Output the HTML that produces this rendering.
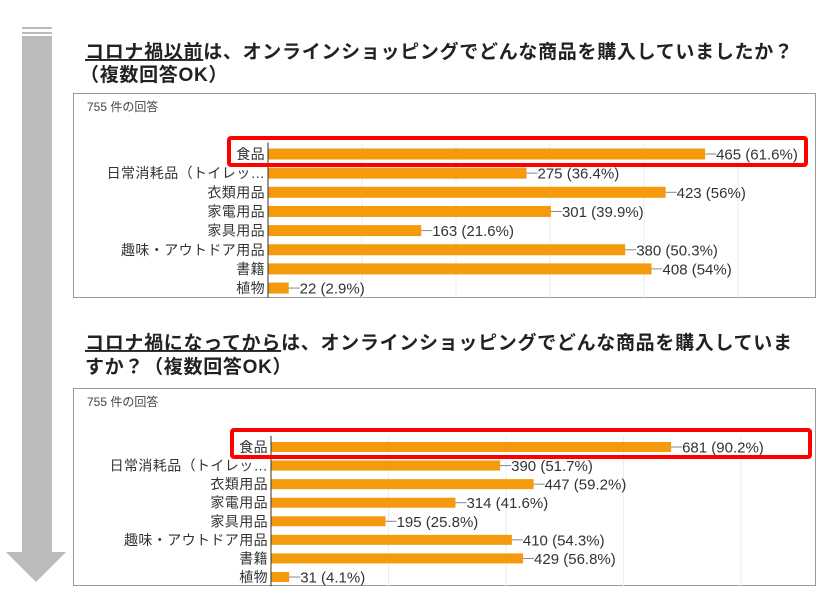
<!DOCTYPE html>
<html><head><meta charset="utf-8"><style>
body{margin:0;background:#fff;width:840px;height:603px;overflow:hidden}
svg{display:block}
.t{font-family:"Liberation Sans","Noto Sans CJK JP",sans-serif;font-weight:bold;font-size:19px;letter-spacing:0.7px;fill:#222}
.lab{font-family:"Liberation Sans","Noto Sans CJK JP",sans-serif;font-size:14px;letter-spacing:0.4px;fill:#333}
.val{font-family:"Liberation Sans","Noto Sans CJK JP",sans-serif;font-size:15px;fill:#333}
.cnt{font-family:"Liberation Sans","Noto Sans CJK JP",sans-serif;font-size:12px;fill:#444}
</style></head><body>
<svg id="s" width="840" height="603" viewBox="0 0 840 603">
<g>
<rect x="22" y="27" width="30" height="2" fill="#bbb"/>
<rect x="22" y="32" width="30" height="2" fill="#bbb"/>
<rect x="22" y="36" width="30" height="517" fill="#bbb"/>
<polygon points="6,552 66,552 36,582" fill="#bbb"/>
</g>
<text class="t" x="85" y="58"><tspan text-decoration="underline">コロナ禍以前</tspan>は、オンラインショッピングでどんな商品を購入していましたか？</text>
<text class="t" x="80" y="81">（複数回答OK）</text>
<text class="t" x="85" y="349"><tspan text-decoration="underline">コロナ禍になってから</tspan>は、オンラインショッピングでどんな商品を購入していま</text>
<text class="t" x="85" y="373">すか？（複数回答OK）</text>
</svg>
<script>
const categories=["食品","日常消耗品（トイレッ…","衣類用品","家電用品","家具用品","趣味・アウトドア用品","書籍","植物"];
const before=[465,275,423,301,163,380,408,22];
const beforePct=["61.6%","36.4%","56%","39.9%","21.6%","50.3%","54%","2.9%"];
const after=[681,390,447,314,195,410,429,31];
const afterPct=["90.2%","51.7%","59.2%","41.6%","25.8%","54.3%","56.8%","4.1%"];
const ticks1=[0,100,200,300,400,500];
const ticks2=[0,200,400,600,800];
const NS="http://www.w3.org/2000/svg";
const svg=document.getElementById('s');
function mk(tag,attrs,parent){const e=document.createElementNS(NS,tag);for(const k in attrs)e.setAttribute(k,attrs[k]);(parent||svg).appendChild(e);return e;}
function chart(cfg){
  const g=mk('g',{});
  
  
  const fr=mk('rect',{x:73.5,y:cfg.fy+0.5,width:742,height:cfg.fh,fill:'#fff',stroke:'#999','stroke-width':1},g);
  
  
  const c=mk('text',{x:87,y:cfg.fy+18,class:'cnt'},g);c.textContent='755 件の回答';
  
  
  const xs=v=>cfg.x0+v*cfg.k;
  const top=cfg.y0-cfg.step/2-2, bot=cfg.y0+cfg.step*7.5;
  cfg.ticks.forEach(t=>{if(t===0)return;const l=mk('line',{x1:xs(t),x2:xs(t),y1:top,y2:bot,stroke:'#ececec'},g);
    
    });
  cfg.vals.forEach((v,i)=>{
    const y=cfg.y0+i*cfg.step;
    const b=mk('rect',{x:xs(0),y:y-cfg.bh/2,width:xs(v)-xs(0),height:cfg.bh,fill:'#f59a0c'},g);
    
    
    const ln=mk('line',{x1:xs(v),x2:xs(v)+11,y1:y,y2:y,stroke:'#888'},g);
    
    
    const tv=mk('text',{x:xs(v)+11,y:y+5.5,class:'val'},g);tv.textContent=v+' ('+cfg.pct[i]+')';
    
    
    const tl=mk('text',{x:cfg.x0-3,y:y+5,class:'lab','text-anchor':'end'},g);tl.textContent=categories[i];
    
    
  });
  const ax=mk('line',{x1:cfg.x0,x2:cfg.x0,y1:top,y2:bot,stroke:'#333'},g);
  
  
  const hb=mk('rect',Object.assign({fill:'none',stroke:'#f00','stroke-width':4,rx:2},cfg.hl),g);
  
  
}
chart({name:'chart-before',fy:93,fh:204,x0:268,k:0.94,y0:154,step:19.15,bh:11,ticks:ticks1,vals:before,pct:beforePct,hl:{x:229,y:138,width:577,height:27}});
chart({name:'chart-after',fy:388,fh:197,x0:271,k:0.5875,y0:447,step:18.57,bh:10,ticks:ticks2,vals:after,pct:afterPct,hl:{x:232,y:430,width:578,height:27}});
</script>
</body></html>
